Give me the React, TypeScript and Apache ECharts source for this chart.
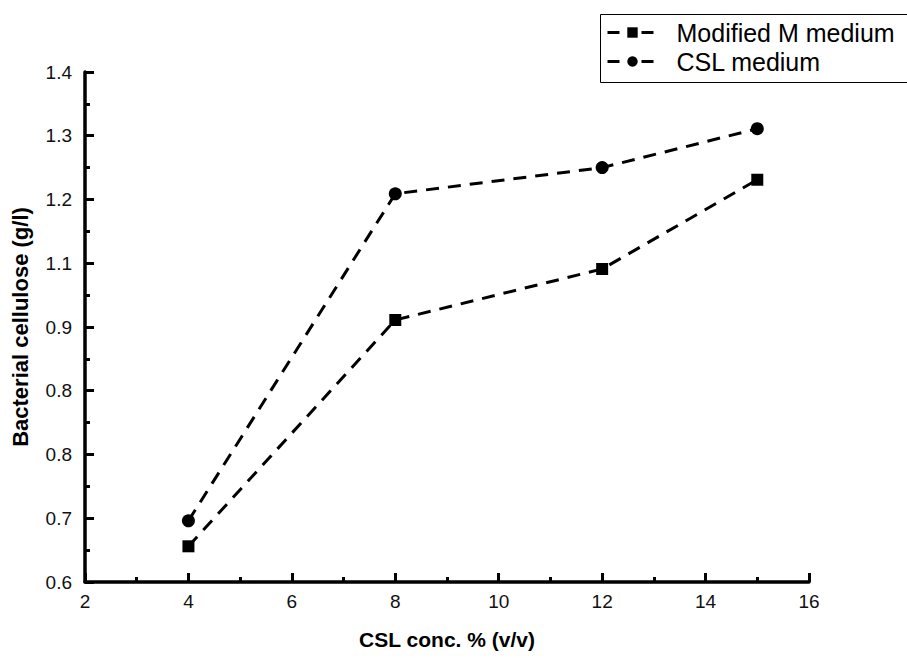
import React, { useEffect, useRef } from "react";
import * as echarts from "echarts";

const xValues = [4, 8, 12, 15];
const modifiedM = [0.656, 1.011, 1.091, 1.231];
const cslMedium = [0.696, 1.209, 1.25, 1.311];
const yTickLabels = ["0.6", "0.7", "0.8", "0.8", "0.9", "1.1", "1.2", "1.3", "1.4"];
const seriesNames = ["Modified M medium", "CSL medium"];

const FONT = "'Liberation Sans', Arial, Helvetica, sans-serif";

export default function App() {
  const ref = useRef<HTMLDivElement>(null);
  useEffect(() => {
    if (!ref.current) return;
    const chart = echarts.init(ref.current, null, { renderer: "svg" });
    const lineStyle = { color: "#000", width: 3, type: [13, 9] as any };
    chart.setOption({
      animation: false,
      backgroundColor: "#fff",
      textStyle: { fontFamily: FONT },
      grid: { left: 85, right: 98, top: 72, bottom: 76 },
      graphic: [
        {
          type: "rect",
          left: 598,
          top: 12,
          shape: { width: 330, height: 68 },
          style: { fill: "none", stroke: "#000", lineWidth: 1 },
          z: 10,
        },
      ],
      legend: {
        orient: "vertical",
        left: 598,
        top: 12,
        padding: [8, 8, 8, 8],
        itemGap: 4,
        itemWidth: 50,
        itemHeight: 13,
        lineStyle: { type: [12, 22] as any, width: 3 },
        textStyle: { fontSize: 25, color: "#000", fontFamily: FONT, lineHeight: 24, padding: [0, 0, 0, 14] },
        data: seriesNames,
      },
      xAxis: {
        type: "value",
        min: 2,
        max: 16,
        interval: 2,
        name: "CSL conc. % (v/v)",
        nameLocation: "middle",
        nameGap: 47,
        nameTextStyle: { fontSize: 21, fontWeight: "bold", color: "#000", fontFamily: FONT },
        axisLine: { lineStyle: { color: "#000", width: 3.5 } },
        axisTick: { inside: true, length: 9, lineStyle: { width: 3, color: "#000" } },
        minorTick: { show: true, splitNumber: 2, length: 5, lineStyle: { width: 3, color: "#000" } },
        axisLabel: { fontSize: 19, color: "#111", margin: 10, fontFamily: FONT },
        splitLine: { show: false },
      },
      yAxis: {
        type: "value",
        min: 0.6,
        max: 1.4,
        interval: 0.1,
        name: "Bacterial cellulose (g/l)",
        nameLocation: "middle",
        nameGap: 54,
        nameTextStyle: { fontSize: 22, fontWeight: "bold", color: "#000", fontFamily: FONT },
        axisLine: { show: true, lineStyle: { color: "#000", width: 3.5 } },
        axisTick: { show: true, inside: true, length: 9, lineStyle: { width: 3, color: "#000" } },
        minorTick: { show: true, splitNumber: 2, length: 5, lineStyle: { width: 3, color: "#000" } },
        axisLabel: {
          fontSize: 19,
          color: "#111",
          margin: 13,
          fontFamily: FONT,
          formatter: (v: number) => yTickLabels[Math.round((v - 0.6) / 0.1)] ?? "",
        },
        splitLine: { show: false },
      },
      series: [
        {
          name: seriesNames[0],
          type: "line",
          data: xValues.map((x, i) => [x, modifiedM[i]]),
          symbol: "rect",
          symbolSize: 12,
          itemStyle: { color: "#000" },
          lineStyle,
        },
        {
          name: seriesNames[1],
          type: "line",
          data: xValues.map((x, i) => [x, cslMedium[i]]),
          symbol: "circle",
          symbolSize: 13,
          itemStyle: { color: "#000" },
          lineStyle,
        },
      ],
    });
    return () => chart.dispose();
  }, []);
  return (
    <div
      ref={ref}
      style={{ position: "fixed", left: 0, top: 0, width: 907, height: 658, background: "#fff" }}
    />
  );
}
